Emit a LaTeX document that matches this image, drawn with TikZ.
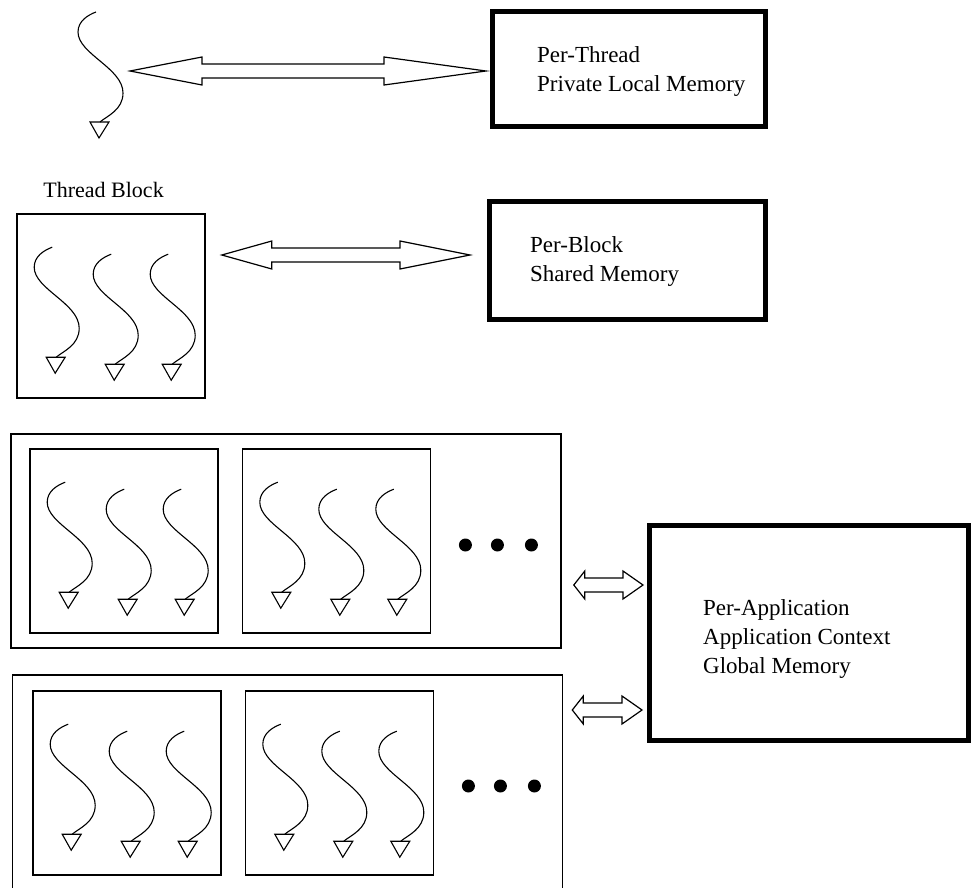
\documentclass[tikz,border=0pt]{standalone}
\usepackage{fontspec}
\setmainfont{Liberation Serif}
\usetikzlibrary{calc, positioning}

\tikzset{
  membox/.style={draw, line width=5pt},
  blockbox/.style={draw, line width=1.6pt, minimum width=188, minimum height=184},
  grpbox/.style={draw, line width=1.6pt, minimum width=550, minimum height=214},
  memtext/.style={font=\fontsize{23}{29}\selectfont, align=left, inner sep=0pt},
  threadline/.style={line width=1.1pt},
  fatline/.style={line width=1.2pt, line join=miter},
  thread/.pic={
    \draw[threadline] (0,0) .. controls (-8,3) and (-18,9) .. (-18,20)
      .. controls (-18,42) and (27,56) .. (27,81)
      .. controls (27,98) and (11,104) .. (4,110);
    \draw[threadline] (-6,110) -- (13,110) -- (3,126) -- cycle;
  }
}

% hollow double arrow: left tip, right tip, left head, right head, head half, shaft half
\newcommand{\fatarrow}[6]{%
  \draw[fatline] (#1) -- ($(#1)+(#3,-#5)$) -- ($(#1)+(#3,-#6)$) -- ($(#2)+(-#4,-#6)$)
    -- ($(#2)+(-#4,-#5)$) -- (#2) -- ($(#2)+(-#4,#5)$) -- ($(#2)+(-#4,#6)$)
    -- ($(#1)+(#3,#6)$) -- ($(#1)+(#3,#5)$) -- cycle;
}

\begin{document}
\begin{tikzpicture}[x=1pt, y=-1pt]
    \useasboundingbox (0,0) rectangle (971,888);
    \clip (0,0) rectangle (971,888);

    % Single thread
    \coordinate (thr0) at (96,12);
    \pic at (thr0) {thread};

    % Memory boxes
    \node[membox, minimum width=273, minimum height=115] (thrmem) at (629,69) {};
    \node[memtext, anchor=west] (thrtxt) at ($(thrmem.west)+(47,3)$) {Per-Thread\\Private Local Memory};
    \node[membox, minimum width=276, minimum height=118] (blkmem) at (627.5,260.5) {};
    \node[memtext, anchor=west] (blktxt) at ($(blkmem.west)+(43,1.5)$) {Per-Block\\Shared Memory};
    \node[membox, minimum width=319, minimum height=215] (appmem) at (809,633) {};
    \node[memtext, anchor=west] (apptxt) at ($(appmem.west)+(56,6)$) {Per-Application\\Application Context\\Global Memory};

    % Thread block
    \node[blockbox] (tb) at (111,306) {};
    \node[memtext, font=\fontsize{22}{28}\selectfont, anchor=base west] (tblabel) at ($(tb.north west)+(27,-16)$) {Thread Block};

    % Grids of blocks
    \node[grpbox] (grp1) at (286,541) {};
    \node[blockbox] (b11) at (124,541) {};
    \node[blockbox, right=23pt of b11] (b12) {};
    \node[grpbox] (grp2) at (287.5,782) {};
    \node[blockbox] (b21) at (127,783) {};
    \node[blockbox, right=23pt of b21] (b22) {};

    \foreach \b in {tb,b11,b12,b21,b22} {
        \pic at ($(\b.north west)+(36,34)$) {thread};
        \pic at ($(\b.north west)+(95,41)$) {thread};
        \pic at ($(\b.north west)+(152,41)$) {thread};
    }
    \foreach \dx in {34,66,100} {
        \fill ($(b12.east)+(\dx,4)$) circle (6.5pt);
        \fill ($(b22.east)+(\dx,3)$) circle (6.5pt);
    }

    % Arrows
    \coordinate (a1l) at (130,71);
    \coordinate (a1r) at ($(a1l -| thrmem.west)+(-4,0)$);
    \fatarrow{a1l}{a1r}{72}{102}{14}{7}
    \coordinate (a2l) at ($(tb.east |- 0,255)+(16,0)$);
    \coordinate (a2r) at ($(a2l -| blkmem.west)+(-17,0)$);
    \fatarrow{a2l}{a2r}{50}{70}{14}{7}
    \coordinate (a3l) at ($(grp1.east |- 0,585)+(12,0)$);
    \coordinate (a3r) at ($(a3l -| appmem.west)+(-4,0)$);
    \fatarrow{a3l}{a3r}{11}{20}{14}{7}
    \coordinate (a4l) at ($(grp2.east |- 0,710)+(9,0)$);
    \coordinate (a4r) at ($(a4l -| appmem.west)+(-5,0)$);
    \fatarrow{a4l}{a4r}{11}{20}{14}{7}
\end{tikzpicture}
\end{document}
